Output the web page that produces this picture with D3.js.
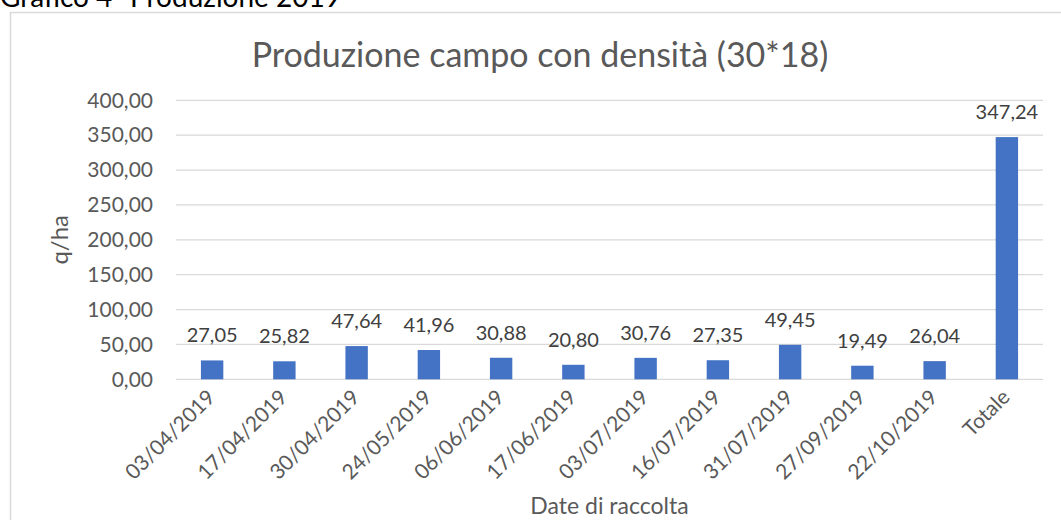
<!DOCTYPE html>
<html>
<head>
<meta charset="utf-8">
<script src="https://cdn.jsdelivr.net/npm/d3@7"></script>
<style>
  html, body { margin: 0; padding: 0; background: #fff; }
  svg { display: block; font-family: Lato, "Open Sans", sans-serif; }
</style>
</head>
<body>
<svg id="chart" width="1061" height="520"></svg>
<script>
const categories = ["03/04/2019","17/04/2019","30/04/2019","24/05/2019","06/06/2019","17/06/2019","03/07/2019","16/07/2019","31/07/2019","27/09/2019","22/10/2019","Totale"];
const values = [27.05,25.82,47.64,41.96,30.88,20.80,30.76,27.35,49.45,19.49,26.04,347.24];
const yTicks = [0,50,100,150,200,250,300,350,400];
const chartTitle = "Produzione campo con densità (30*18)";
const docCaption = "Grafico 4- Produzione 2019";
const yTitle = "q/ha";
const xTitle = "Date di raccolta";

const fmt = v => v.toFixed(2).replace(".", ",");

const svg = d3.select("#chart");
const plot = { left: 176, right: 1043, top: 100.3, bottom: 379.3 };

// document caption above the chart box
svg.append("text").attr("x", 0).attr("y", 7)
  .attr("font-size", 28).attr("fill", "#000").text(docCaption);

// chart area border
svg.append("rect").attr("x", 10.5).attr("y", 12.5).attr("width", 1100).attr("height", 600)
  .attr("fill", "#fff").attr("stroke", "#d9d9d9").attr("stroke-width", 1.5);

const x = d3.scaleBand().domain(categories).range([plot.left, plot.right]).paddingInner(0.69).paddingOuter(0.345);
const y = d3.scaleLinear().domain([0, 400]).range([plot.bottom, plot.top]);

// gridlines
svg.append("g").selectAll("line").data(yTicks).join("line")
  .attr("x1", plot.left).attr("x2", plot.right)
  .attr("y1", d => y(d)).attr("y2", d => y(d))
  .attr("stroke", "#d9d9d9").attr("stroke-width", 1.3);

// y axis labels
const yAxis = d3.axisLeft(y).tickValues(yTicks).tickFormat(fmt).tickSize(0).tickPadding(0);
const gy = svg.append("g").attr("transform", `translate(153,0)`).call(yAxis);
gy.select(".domain").remove();
gy.selectAll("text").attr("font-size", 21).attr("fill", "#595959").attr("font-family", "Lato");

// bars
svg.append("g").selectAll("rect").data(values).join("rect")
  .attr("x", (d, i) => x(categories[i]))
  .attr("width", x.bandwidth())
  .attr("y", d => y(d))
  .attr("height", d => y(0) - y(d))
  .attr("fill", "#4472c4");

// data labels
svg.append("g").selectAll("text").data(values).join("text")
  .attr("x", (d, i) => x(categories[i]) + x.bandwidth() / 2)
  .attr("y", d => y(d) - 18)
  .attr("text-anchor", "middle")
  .attr("font-size", 20).attr("fill", "#404040")
  .text(d => fmt(d));

// x axis
const xAxis = d3.axisBottom(x).tickSize(0).tickPadding(0);
const gx = svg.append("g").attr("transform", `translate(0,${plot.bottom})`).call(xAxis);
gx.select(".domain").remove();
gx.selectAll("text")
  .attr("font-size", 21).attr("fill", "#595959").attr("font-family", "Lato")
  .attr("text-anchor", "end")
  .attr("dy", "0.35em")
  .attr("transform", "translate(-1,14) rotate(-45)");

// title
svg.append("text").attr("x", 540).attr("y", 67).attr("text-anchor", "middle")
  .attr("font-size", 34).attr("fill", "#595959").text(chartTitle);

// axis titles
svg.append("text").attr("transform", `translate(68,${(plot.top + plot.bottom) / 2}) rotate(-90)`)
  .attr("text-anchor", "middle").attr("font-size", 24).attr("fill", "#595959").text(yTitle);
svg.append("text").attr("x", (plot.left + plot.right) / 2).attr("y", 514)
  .attr("text-anchor", "middle").attr("font-size", 23).attr("fill", "#595959").text(xTitle);
</script>
</body>
</html>
